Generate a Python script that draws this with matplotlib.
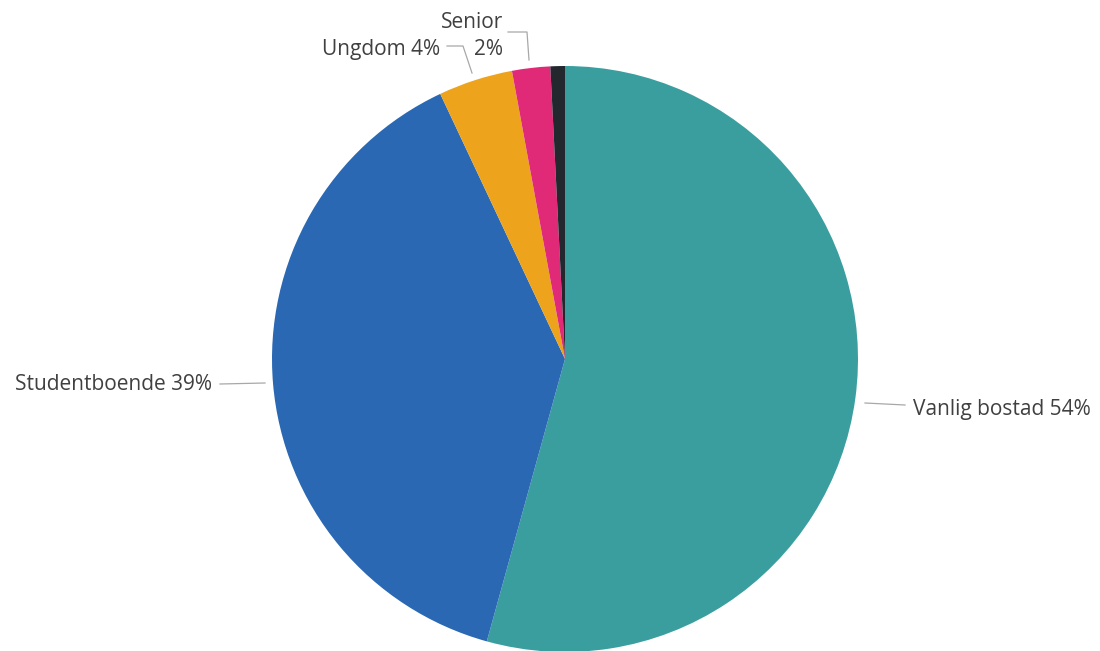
import matplotlib
matplotlib.use("Agg")
import matplotlib.pyplot as plt

categories = ["Vanlig bostad", "Studentboende", "Ungdom", "Senior", ""]
shares = [54.3, 38.7, 4.1, 2.1, 0.8]
label_texts = ["Vanlig bostad 54%", "Studentboende 39%", "Ungdom 4%", "Senior\n2%", ""]
colors = ["#3a9e9f", "#2a68b4", "#eea31c", "#e02a78", "#23282f"]

W, H = 1100, 651

fig = plt.figure(figsize=(W / 100, H / 100), dpi=100)
ax = fig.add_axes([0, 0, 1, 1])

# pie in pixel space, y measured from bottom
cx, cy, r = 565, H - 359, 293
ax.pie(shares, colors=colors, startangle=90, counterclock=False,
       center=(cx, cy), radius=r, frame=True,
       wedgeprops=dict(linewidth=0))
ax.set_xlim(0, W)
ax.set_ylim(0, H)
ax.set_aspect("equal")
ax.axis("off")

txt = dict(family="Open Sans", fontsize=15, color="#404040")
line = dict(color="#a8a8a8", lw=0.9)

def py(y):
    return H - y

# Vanlig bostad
ax.plot([865, 905], [py(403), py(405)], **line)
ax.text(913, py(410), label_texts[0], ha="left", va="center", **txt)
# Studentboende
ax.plot([220, 265], [py(384), py(383)], **line)
ax.text(15, py(385), label_texts[1], ha="left", va="center", **txt)
# Ungdom
ax.plot([447, 463, 472], [py(46), py(46), py(73)], **line)
ax.text(322, py(50), label_texts[2], ha="left", va="center", **txt)
# Senior
ax.plot([508, 527, 529], [py(32), py(32), py(60)], **line)
ax.text(503, py(36), label_texts[3], ha="right", va="center",
        multialignment="right", linespacing=1.35, **txt)

fig.savefig("out.png", dpi=100)
